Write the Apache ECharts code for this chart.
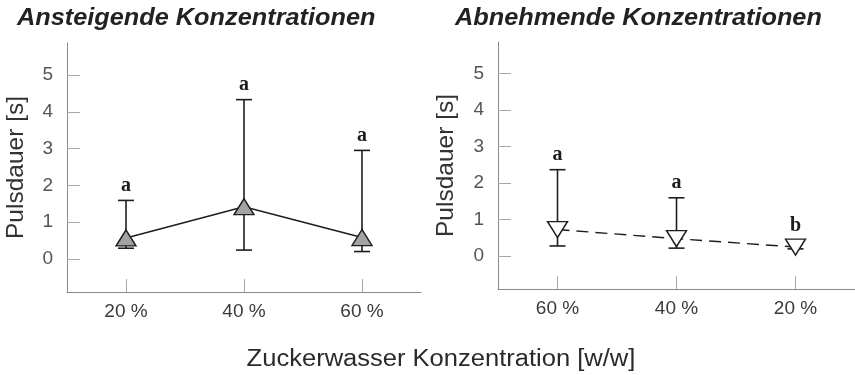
<!DOCTYPE html>
<html><head><meta charset="utf-8">
<script src="https://cdn.jsdelivr.net/npm/echarts@6/dist/echarts.min.js"></script>
<style>html,body{margin:0;padding:0;background:#fff}#c{width:855px;height:375px}</style>
</head><body><div id="c"></div>
<script>
// ---- data ----
const catsUp = ['20 %', '40 %', '60 %'];
const meanUp = [0.57, 1.42, 0.58];
const lowUp = [0.29, 0.24, 0.20];
const highUp = [1.59, 4.33, 2.95];
const letterUp = ['a', 'a', 'a'];

const catsDown = ['60 %', '40 %', '20 %'];
const meanDown = [0.73, 0.48, 0.25];
const lowDown = [0.28, 0.22, 0.20];
const highDown = [2.37, 1.60, 0.41];
const letterDown = ['a', 'a', 'b'];

const yTicks = [0, 1, 2, 3, 4, 5];
const titleUp = 'Ansteigende Konzentrationen';
const titleDown = 'Abnehmende Konzentrationen';
const xTitle = 'Zuckerwasser Konzentration [w/w]';
const yTitle = 'Pulsdauer [s]';

const FONT = '"Liberation Sans", Arial, sans-serif';
const chart = echarts.init(document.getElementById('c'), null, {renderer: 'canvas'});

function xAxisDef(idx, cats) {
  return {
    type: 'category', gridIndex: idx, data: cats, boundaryGap: true,
    axisLine: {onZero: false, lineStyle: {color: '#8a8a8a', width: 1}},
    axisTick: {show: true, alignWithLabel: true, inside: true, length: 13, lineStyle: {color: '#a8a8a8', width: 1}},
    axisLabel: {color: '#3a3a3a', fontSize: 19, fontFamily: FONT, margin: 10},
    splitLine: {show: false}
  };
}
function yAxisDef(idx, gap) {
  return {
    type: 'value', gridIndex: idx, min: -0.9, max: 5.87,
    name: yTitle, nameLocation: 'middle', nameRotate: 90, nameGap: gap,
    nameTextStyle: {color: '#333', fontSize: 24.5, fontFamily: FONT},
    axisLine: {show: true, onZero: false, lineStyle: {color: '#8a8a8a', width: 1}},
    axisTick: {show: true, inside: true, length: 13, customValues: yTicks, lineStyle: {color: '#a8a8a8', width: 1}},
    axisLabel: {color: '#555', fontSize: 19, fontFamily: FONT, margin: 14, customValues: yTicks},
    splitLine: {show: false}
  };
}
function errSeries(idx, lows, highs, letters) {
  return {
    type: 'custom', xAxisIndex: idx, yAxisIndex: idx, z: 1,
    data: lows.map((l, i) => [i, l, highs[i]]),
    renderItem: function (params, api) {
      const x = api.value(0);
      const pLo = api.coord([x, api.value(1)]);
      const pHi = api.coord([x, api.value(2)]);
      const half = 8;
      const st = {stroke: '#1e1e1e', lineWidth: 1.6};
      return {
        type: 'group',
        children: [
          {type: 'line', shape: {x1: pLo[0], y1: pLo[1], x2: pHi[0], y2: pHi[1]}, style: st},
          {type: 'line', shape: {x1: pLo[0] - half, y1: pLo[1], x2: pLo[0] + half, y2: pLo[1]}, style: st},
          {type: 'line', shape: {x1: pHi[0] - half, y1: pHi[1], x2: pHi[0] + half, y2: pHi[1]}, style: st},
          {type: 'text', style: {text: letters[params.dataIndex], x: pHi[0], y: pHi[1] - 5,
            align: 'center', verticalAlign: 'bottom',
            font: 'bold 20px "Liberation Serif", "Times New Roman", serif', fill: '#1e1e1e'}}
        ]
      };
    }
  };
}

chart.setOption({
  animation: false,
  grid: [
    {left: 67, top: 43, width: 354, height: 249},
    {left: 498, top: 42, width: 357, height: 247}
  ],
  xAxis: [xAxisDef(0, catsUp), xAxisDef(1, catsDown)],
  yAxis: [yAxisDef(0, 38), yAxisDef(1, 39)],
  graphic: [
    {type: 'text', x: 17, y: 19, scaleX: 1.1, style: {text: titleUp, font: 'italic bold 23px ' + FONT, fill: '#222', align: 'left', verticalAlign: 'middle'}},
    {type: 'text', x: 455, y: 19, scaleX: 1.1, style: {text: titleDown, font: 'italic bold 23px ' + FONT, fill: '#222', align: 'left', verticalAlign: 'middle'}},
    {type: 'text', x: 441, y: 360, scaleX: 1.11, style: {text: xTitle, font: '23px ' + FONT, fill: '#2a2a2a', align: 'center', verticalAlign: 'middle'}}
  ],
  series: [
    errSeries(0, lowUp, highUp, letterUp),
    errSeries(1, lowDown, highDown, letterDown),
    {
      type: 'line', xAxisIndex: 0, yAxisIndex: 0, z: 3, data: meanUp,
      symbol: 'triangle', symbolSize: [20, 16],
      itemStyle: {color: '#a3a3a3', borderColor: '#1e1e1e', borderWidth: 1.4},
      lineStyle: {color: '#1e1e1e', width: 1.6}
    },
    {
      type: 'line', xAxisIndex: 1, yAxisIndex: 1, z: 3, data: meanDown,
      symbol: 'triangle', symbolRotate: 180, symbolSize: [20, 16],
      itemStyle: {color: '#ffffff', borderColor: '#1e1e1e', borderWidth: 1.4},
      lineStyle: {color: '#1e1e1e', width: 1.4, type: [12, 7]}
    }
  ]
});
</script></body></html>
